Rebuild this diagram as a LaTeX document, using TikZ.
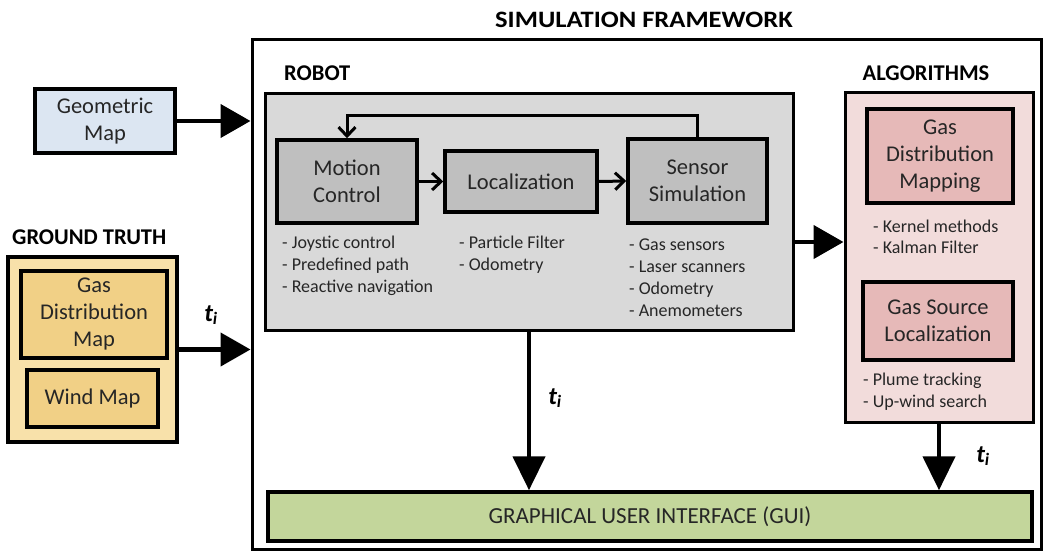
\documentclass[tikz,border=0pt]{standalone}
\usepackage{fontspec}
\setmainfont{Carlito}
\usetikzlibrary{arrows.meta,calc}

\definecolor{txt}{HTML}{262626}
\definecolor{geofill}{HTML}{DCE6F2}
\definecolor{gtout}{HTML}{F8E1AA}
\definecolor{gtin}{HTML}{F1D086}
\definecolor{robfill}{HTML}{D9D9D9}
\definecolor{robin}{HTML}{BFBFBF}
\definecolor{algout}{HTML}{F2DCDB}
\definecolor{algin}{HTML}{E6B9B8}
\definecolor{guifill}{HTML}{C3D69B}

\tikzset{
  box/.style={draw=black, line width=3.5pt, inner sep=0pt, align=center,
    text=txt, font=\fontsize{22.5}{27}\selectfont},
  heading/.style={text=black, font=\bfseries\fontsize{22.5}{26}\selectfont, inner sep=0pt},
  listtxt/.style={text=txt, font=\fontsize{18}{22}\selectfont, inner sep=0pt, anchor=base west},
  bigarrow/.style={line width=4.5pt, -{Triangle[length=30pt,width=33pt]}},
  downarrow/.style={line width=4.5pt, -{Triangle[length=34pt,width=32pt]}},
  smallarrow/.style={line width=3pt, -{Straight Barb[length=9pt,width=17pt]}},
  tlabel/.style={text=black, font=\bfseries\itshape\fontsize{25}{29}\selectfont, inner sep=0pt},
}
\newcommand{\tindex}{t\textsubscript{i}}

\begin{document}
\begin{tikzpicture}[x=1pt,y=-1pt]
\useasboundingbox (0,0) rectangle (1044,551);

% framework outline and title
\node[draw=black, line width=3pt, minimum width=789pt, minimum height=509pt, inner sep=0pt] (frame) at (646.5,294.5) {};
\node[heading, font=\bfseries\fontsize{23.5}{27}\selectfont] (title) at (644,20) {\scalebox{1.13}[1]{SIMULATION FRAMEWORK}};

% inputs on the left
\node[box, fill=geofill, minimum width=140pt, minimum height=64pt] (geo) at (105,121) {Geometric\\Map};

\node[heading, anchor=west] (gthead) at (12,237) {GROUND TRUTH};
\node[box, fill=gtout, minimum width=169pt, minimum height=185pt] (gt) at (92.5,349.5) {};
\node[box, fill=gtin, minimum width=146pt, minimum height=87pt] (gdm) at (94,314.5) {Gas\\Distribution\\Map};
\node[box, fill=gtin, minimum width=131pt, minimum height=57pt] (wind) at (92.5,398.5) {Wind Map};

% robot block
\node[heading, anchor=west] (robhead) at (284,73) {ROBOT};
\node[box, fill=robfill, line width=3pt, minimum width=528pt, minimum height=237pt] (robot) at (529,211.5) {};
\node[box, fill=robin, minimum width=140pt, minimum height=83pt] (mc) at (347,181.5) {Motion\\Control};
\node[box, fill=robin, minimum width=152pt, minimum height=61pt] (loc) at (521,181.5) {Localization};
\node[box, fill=robin, minimum width=139pt, minimum height=84pt] (ss) at (697.5,181) {Sensor\\Simulation};

\foreach \t [count=\i] in {- Joystic control, - Predefined path, - Reactive navigation}
  \node[listtxt] (mcl\i) at (282,{248+22*(\i-1)}) {\t};
\foreach \t [count=\i] in {- Particle Filter, - Odometry}
  \node[listtxt] (locl\i) at (459,{248+22*(\i-1)}) {\t};
\foreach \t [count=\i] in {- Gas sensors, - Laser scanners, - Odometry, - Anemometers}
  \node[listtxt] (ssl\i) at (629,{250+22*(\i-1)}) {\t};

\coordinate (fb) at (0,115);
\draw[smallarrow] (mc.east) -- (loc.west);
\draw[smallarrow] (loc.east) -- (ss.west);
\draw[smallarrow] (ss.north) -- (ss.north |- fb) -| (mc.north);

% algorithms block
\node[heading] (alghead) at (926,73) {ALGORITHMS};
\node[box, fill=algout, line width=3pt, minimum width=188pt, minimum height=330pt] (alg) at (939,257) {};
\node[box, fill=algin, minimum width=146pt, minimum height=94pt] (gdmap) at (940,156) {Gas\\Distribution\\Mapping};
\node[box, fill=algin, minimum width=150pt, minimum height=78pt] (gsl) at (938,321) {Gas Source\\Localization};
\foreach \t [count=\i] in {- Kernel methods, - Kalman Filter}
  \node[listtxt] (gdl\i) at (873,{232+21*(\i-1)}) {\t};
\foreach \t [count=\i] in {- Plume tracking, - Up-wind search}
  \node[listtxt] (gsll\i) at (863,{385+22*(\i-1)}) {\t};

% user interface
\node[box, fill=guifill, minimum width=764pt, minimum height=49pt, font=\fontsize{23}{27}\selectfont] (gui) at (650,516.5) {GRAPHICAL USER INTERFACE (GUI)};

% data flow
\draw[bigarrow] (geo.east) -- (geo.east -| frame.west);
\draw[bigarrow] (gt.east) -- (gt.east -| frame.west);
\node[tlabel] (t1) at (211,315) {\tindex};
\coordinate (ra) at ([yshift=-30.5pt]robot.east);
\draw[bigarrow] (ra) -- (ra -| alg.west);
\draw[downarrow] (robot.south) -- (robot.south |- gui.north);
\node[tlabel] (t2) at (555,398) {\tindex};
\draw[downarrow] (alg.south) -- (alg.south |- gui.north);
\node[tlabel] (t3) at (983,456) {\tindex};
\end{tikzpicture}
\end{document}
